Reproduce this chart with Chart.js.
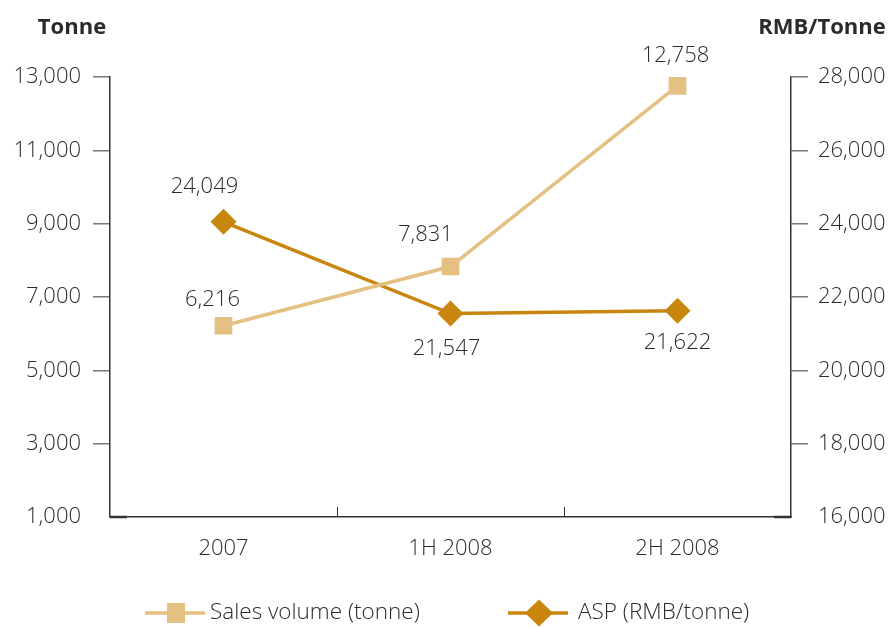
<!DOCTYPE html>
<html>
<head>
<meta charset="utf-8">
<script src="https://cdn.jsdelivr.net/npm/chart.js@4/dist/chart.umd.min.js"></script>
<style>
  html, body { margin: 0; padding: 0; background: #fff; }
  #wrap { width: 893px; height: 627px; }
</style>
</head>
<body>
<div id="wrap"><canvas id="c" width="893" height="627"></canvas></div>
<script>
// ---- data ----
const categories = ['2007', '1H 2008', '2H 2008'];
const salesVolume = [6216, 7831, 12758];
const aspValues = [24049, 21547, 21622];
const leftTicks = [1000, 3000, 5000, 7000, 9000, 11000, 13000];
const rightTicks = [16000, 18000, 20000, 22000, 24000, 26000, 28000];
const seriesNames = ['Sales volume (tonne)', 'ASP (RMB/tonne)'];
const axisTitles = ['Tonne', 'RMB/Tonne'];

// ---- styles ----
const TAN = '#E5C083';
const GOLD = '#C8860F';
const TEXT = '#2b2b2b';
const FONT = '"Open Sans", "DejaVu Sans", sans-serif';
const fmt = v => Number(v).toLocaleString('en-US');

// label offsets (dx, dy) relative to each point
const labelOffsets = [
  [[-11, -26], [-25, -32], [-2, -30]],
  [[-19, -35], [-4, 35], [0, 32]]
];

const overlay = {
  id: 'overlay',
  afterDatasetsDraw(chart) {
    const ctx = chart.ctx;
    ctx.save();
    ctx.font = '300 22px ' + FONT;
    ctx.fillStyle = TEXT;
    ctx.textAlign = 'center';
    ctx.textBaseline = 'middle';
    chart.data.datasets.forEach((ds, di) => {
      const meta = chart.getDatasetMeta(di);
      meta.data.forEach((el, i) => {
        const [dx, dy] = labelOffsets[di][i];
        ctx.fillText(fmt(ds.data[i]), el.x + dx, el.y + dy);
      });
    });
    ctx.restore();
  },
  afterDraw(chart) {
    const ctx = chart.ctx;
    const area = chart.chartArea;
    const x = chart.scales.x;
    ctx.save();
    // inward ticks at category boundaries
    ctx.strokeStyle = '#333';
    ctx.lineWidth = 1;
    for (let i = 0; i < categories.length - 1; i++) {
      const px = Math.round((x.getPixelForValue(i) + x.getPixelForValue(i + 1)) / 2) + 0.5;
      ctx.beginPath();
      ctx.moveTo(px, area.bottom);
      ctx.lineTo(px, area.bottom - 10);
      ctx.stroke();
    }
    // thick corner segments
    ctx.lineWidth = 2.5;
    ctx.beginPath();
    ctx.moveTo(area.left, area.bottom);
    ctx.lineTo(area.left + 17, area.bottom);
    ctx.moveTo(area.right - 17, area.bottom);
    ctx.lineTo(area.right, area.bottom);
    ctx.stroke();

    // axis titles
    ctx.font = 'bold 22px ' + FONT;
    ctx.fillStyle = TEXT;
    ctx.textAlign = 'center';
    ctx.textBaseline = 'middle';
    ctx.fillText(axisTitles[0], 72, 28);
    ctx.fillText(axisTitles[1], 822, 28);

    // legend
    const items = [
      { x: 145, color: TAN, style: 'rect', name: seriesNames[0] },
      { x: 508, color: GOLD, style: 'diamond', name: seriesNames[1] }
    ];
    const ly = 613;
    items.forEach(it => {
      ctx.strokeStyle = it.color;
      ctx.fillStyle = it.color;
      ctx.lineWidth = 3.5;
      ctx.beginPath();
      ctx.moveTo(it.x, ly);
      ctx.lineTo(it.x + 60, ly);
      ctx.stroke();
      const cx = it.x + 31;
      ctx.beginPath();
      if (it.style === 'rect') {
        ctx.rect(cx - 9, ly - 10, 18, 20);
      } else {
        ctx.moveTo(cx, ly - 13.5);
        ctx.lineTo(cx + 14, ly);
        ctx.lineTo(cx, ly + 13.5);
        ctx.lineTo(cx - 14, ly);
        ctx.closePath();
      }
      ctx.fill();
      ctx.fillStyle = TEXT;
      ctx.font = '300 22.5px ' + FONT;
      ctx.textAlign = 'left';
      ctx.fillText(it.name, it.x + (it.style === 'rect' ? 65 : 70), ly);
    });
    ctx.restore();
  }
};

const tickColor = c => (c.index === 0 ? 'rgba(0,0,0,0)' : '#777');

new Chart(document.getElementById('c'), {
  type: 'line',
  data: {
    labels: categories,
    datasets: [
      {
        label: seriesNames[0],
        data: salesVolume,
        yAxisID: 'y',
        borderColor: TAN,
        backgroundColor: TAN,
        borderWidth: 3.5,
        pointStyle: 'rect',
        pointRadius: 12.5,
        pointBorderWidth: 0,
        tension: 0
      },
      {
        label: seriesNames[1],
        data: aspValues,
        yAxisID: 'y1',
        borderColor: GOLD,
        backgroundColor: GOLD,
        borderWidth: 3.5,
        pointStyle: 'rectRot',
        pointRadius: 13,
        pointBorderWidth: 0,
        tension: 0
      }
    ]
  },
  options: {
    responsive: false,
    animation: false,
    devicePixelRatio: 1,
    layout: { padding: { top: 77, bottom: 0, left: 0, right: 0 } },
    plugins: { legend: { display: false }, tooltip: { enabled: false } },
    scales: {
      x: {
        offset: true,
        grid: { display: true, drawOnChartArea: false, drawTicks: false, color: 'transparent' },
        border: { display: true, color: '#333', width: 1.5 },
        ticks: { font: { size: 22, family: FONT, weight: 300 }, color: TEXT, padding: 19 },
        afterFit(s) { s.height = 110; }
      },
      y: {
        position: 'left',
        min: leftTicks[0],
        max: leftTicks[leftTicks.length - 1],
        afterBuildTicks(s) { s.ticks = leftTicks.map(v => ({ value: v })); },
        grid: { drawOnChartArea: false, tickLength: 17, color: tickColor, lineWidth: 1.5 },
        border: { display: true, color: '#333', width: 1.5 },
        ticks: { font: { size: 22, family: FONT, weight: 300 }, color: TEXT, padding: 12, callback: v => fmt(v) },
        afterFit(s) { s.width = 110; }
      },
      y1: {
        position: 'right',
        min: rightTicks[0],
        max: rightTicks[rightTicks.length - 1],
        afterBuildTicks(s) { s.ticks = rightTicks.map(v => ({ value: v })); },
        grid: { drawOnChartArea: false, tickLength: 17, color: tickColor, lineWidth: 1.5 },
        border: { display: true, color: '#333', width: 1.5 },
        ticks: { font: { size: 22, family: FONT, weight: 300 }, color: TEXT, padding: 10, callback: v => fmt(v) },
        afterFit(s) { s.width = 102; }
      }
    }
  },
  plugins: [overlay]
});
</script>
</body>
</html>
